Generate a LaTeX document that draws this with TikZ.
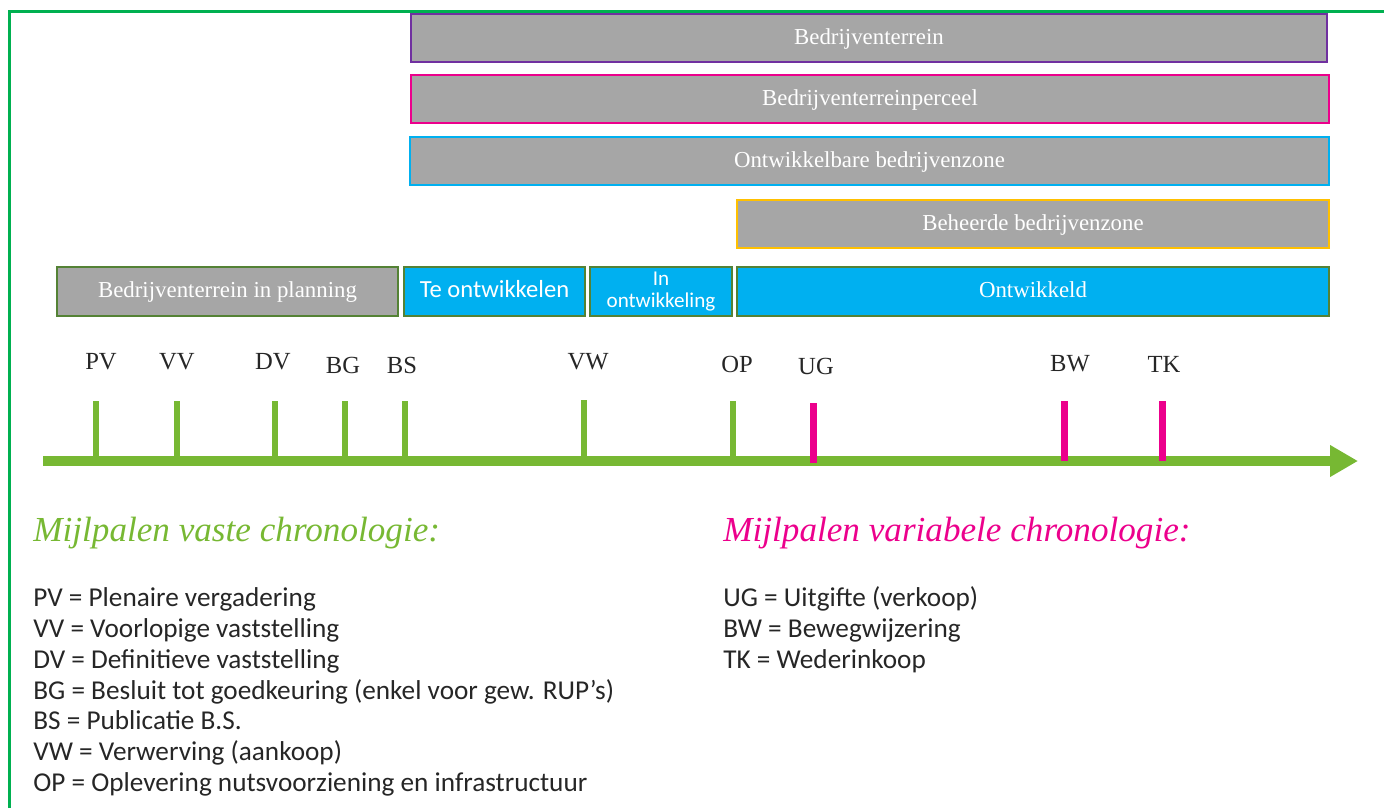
\documentclass[tikz,border=0pt]{standalone}
\usepackage{fontspec}
\setmainfont{Liberation Serif}
\newfontfamily\uitlegfont{Carlito}
\usetikzlibrary{arrows.meta}

\definecolor{kader}    {RGB}{0,176,80}
\definecolor{vast}     {RGB}{119,184,51}
\definecolor{variabel} {RGB}{236,0,140}
\definecolor{balkgrijs}{RGB}{166,166,166}
\definecolor{balkblauw}{RGB}{0,176,240}
\definecolor{randgroen}{RGB}{84,130,53}
\definecolor{paars}    {RGB}{112,48,160}
\definecolor{goud}     {RGB}{255,192,0}
\definecolor{tekst}    {RGB}{38,38,38}

\begin{document}
\begin{tikzpicture}[
    balk/.style={rectangle, inner sep=0pt, line width=1.2pt, minimum height=.96cm,
      fill=balkgrijs, text=white, text height=1.8ex, text depth=.2ex, font=\fontsize{13}{15}\selectfont},
    fase/.style={balk, draw=randgroen, minimum height=.98cm},
    mijl/.style={text=tekst, inner sep=0pt, font=\fontsize{14}{16}\selectfont},
    vasttick/.style={vast, line width=.12cm},
    vartick/.style={variabel, line width=.14cm},
    uitleg/.style={anchor=west, inner sep=0pt, text=tekst, text height=1.6ex, text depth=.45ex,
      font=\uitlegfont\fontsize{15.5}{17}\selectfont},
    kop/.style={anchor=west, inner sep=0pt, font=\itshape\fontsize{20}{24}\selectfont}]

    \useasboundingbox (0,0) rectangle (27.68,-16.16);
    \draw[kader, line width=.06cm] (.19,-16.16) -- (.19,-.22) -- (27.68,-.22);

    % balken
    \node[balk, draw=paars, minimum width=18.32cm] (terrein) at (17.38,-.76) {Bedrijventerrein};
    \node[balk, draw=variabel, minimum width=18.36cm] (perceel) at (17.40,-1.98) {Bedrijventerreinperceel};
    \node[balk, draw=balkblauw, minimum width=18.38cm] (ontwzone) at (17.39,-3.22) {Ontwikkelbare bedrijvenzone};
    \node[balk, draw=goud, minimum width=11.84cm] (beheerd) at (20.66,-4.48) {Beheerde bedrijvenzone};

    \node[fase, minimum width=6.82cm] (planning) at (4.55,-5.83) {Bedrijventerrein in planning};
    \node[fase, fill=balkblauw, minimum width=3.62cm, font=\uitlegfont\fontsize{14}{16}\selectfont] (teontw) at (9.89,-5.83) {Te ontwikkelen};
    \node[fase, fill=balkblauw, minimum width=2.84cm, align=center, text height=, text depth=, font=\uitlegfont\fontsize{12}{12}\selectfont] (inontw) at (13.22,-5.83) {In\\ontwikkeling};
    \node[fase, fill=balkblauw, minimum width=11.84cm] (ontwikkeld) at (20.66,-5.83) {Ontwikkeld};

    % tijdlijn
    \coordinate (start) at (.86,-9.22);
    \coordinate (eind) at (27.16,-9.22);

    \draw[vasttick] (1.92,-9.22) -- (1.92,-8.02);
    \draw[vasttick] (3.54,-9.22) -- (3.54,-8.02);
    \draw[vasttick] (5.50,-9.22) -- (5.50,-8.02);
    \draw[vasttick] (6.90,-9.22) -- (6.90,-8.02);
    \draw[vasttick] (8.10,-9.22) -- (8.10,-8.02);
    \draw[vasttick] (11.68,-9.22) -- (11.68,-8.00);
    \draw[vasttick] (14.66,-9.22) -- (14.66,-8.02);

    \draw[vast, line width=.2cm, -{Triangle[length=.56cm, width=.6cm]}] (start) -- (eind);

    \draw[vartick] (16.26,-9.26) -- (16.26,-8.06);
    \draw[vartick] (21.28,-9.22) -- (21.28,-8.02);
    \draw[vartick] (23.24,-9.22) -- (23.24,-8.02);

    \node[mijl] (pv) at (2.02,-7.24) {PV};
    \node[mijl] (vv) at (3.54,-7.24) {VV};
    \node[mijl] (dv) at (5.46,-7.24) {DV};
    \node[mijl] (bg) at (6.86,-7.30) {BG};
    \node[mijl] (bs) at (8.04,-7.30) {BS};
    \node[mijl] (vw) at (11.76,-7.24) {VW};
    \node[mijl] (op) at (14.74,-7.28) {OP};
    \node[mijl] (ug) at (16.32,-7.32) {UG};
    \node[mijl] (bw) at (21.40,-7.28) {BW};
    \node[mijl] (tk) at (23.28,-7.28) {TK};

    % legende
    \node[kop, text=vast] (vastkop) at (.66,-10.66) {Mijlpalen vaste chronologie:};
    \node[kop, text=variabel] (varkop) at (14.46,-10.66) {Mijlpalen variabele chronologie:};

    \node[uitleg] (pvtekst) at (.66,-12.03) {PV = Plenaire vergadering};
    \node[uitleg] (vvtekst) at (.66,-12.65) {VV = Voorlopige vaststelling};
    \node[uitleg] (dvtekst) at (.66,-13.27) {DV = Definitieve vaststelling};
    \node[uitleg] (bgtekst) at (.66,-13.89) {BG = Besluit tot goedkeuring (enkel voor gew. RUP’s)};
    \node[uitleg] (bstekst) at (.66,-14.49) {BS = Publicatie B.S.};
    \node[uitleg] (vwtekst) at (.66,-15.11) {VW = Verwerving (aankoop)};
    \node[uitleg] (optekst) at (.66,-15.73) {OP = Oplevering nutsvoorziening en infrastructuur};

    \node[uitleg] (ugtekst) at (14.46,-12.03) {UG = Uitgifte (verkoop)};
    \node[uitleg] (bwtekst) at (14.46,-12.65) {BW = Bewegwijzering};
    \node[uitleg] (tktekst) at (14.46,-13.27) {TK = Wederinkoop};

\end{tikzpicture}
\end{document}
